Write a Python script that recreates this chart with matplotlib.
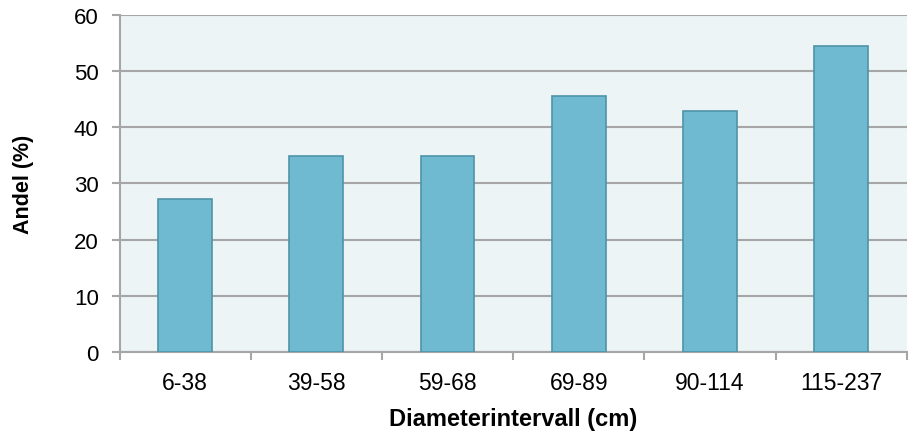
import numpy as np
import matplotlib.pyplot as plt

plt.rcParams['font.family'] = ['Liberation Sans', 'DejaVu Sans']

# Andel per diameterintervall
kategorier = ['6-38', '39-58', '59-68', '69-89', '90-114', '115-237']
andel = [27.3, 34.8, 34.8, 45.5, 42.9, 54.5]

fig = plt.figure(figsize=(9.09, 4.39), dpi=100)
ax = fig.add_axes([0.1315, 0.196, 0.866, 0.768])

x = np.arange(len(kategorier))
ax.bar(x, andel, width=0.41, color='#6FBAD1', edgecolor='#4E94A9',
       linewidth=1.2, zorder=3)

ax.set_facecolor('#ECF4F6')
ax.set_xlim(-0.5, len(kategorier) - 0.5)
ax.set_ylim(0, 60)
ax.set_yticks(np.arange(0, 61, 10))
ax.yaxis.grid(True, color='#A6A6A6', linewidth=1.5, zorder=1)

# kategorietiketter i mitten, streck mellan kategorierna
ax.set_xticks(x)
ax.set_xticklabels(kategorier)
ax.set_xticks(np.arange(-0.5, len(kategorier)), minor=True)
ax.tick_params(axis='x', which='major', length=0, pad=14, labelsize=16.5)
ax.tick_params(axis='x', which='minor', length=6, width=1.5, color='#A6A6A6')
ax.tick_params(axis='y', length=6, width=1.5, color='#A6A6A6', pad=9,
               labelsize=16)

for side in ['top', 'right']:
    ax.spines[side].set_visible(False)
for side in ['left', 'bottom']:
    ax.spines[side].set_color('#A6A6A6')
    ax.spines[side].set_linewidth(1.5)

ax.set_xlabel('Diameterintervall (cm)', fontsize=17, fontweight='bold')
ax.set_ylabel('Andel (%)', fontsize=15.5, fontweight='bold')
ax.xaxis.label.set_va('center')
ax.yaxis.label.set_va('center')
ax.xaxis.set_label_coords(0.5, -0.198)
ax.yaxis.set_label_coords(-0.1226, 0.5)

fig.savefig('out.png', dpi=100)
